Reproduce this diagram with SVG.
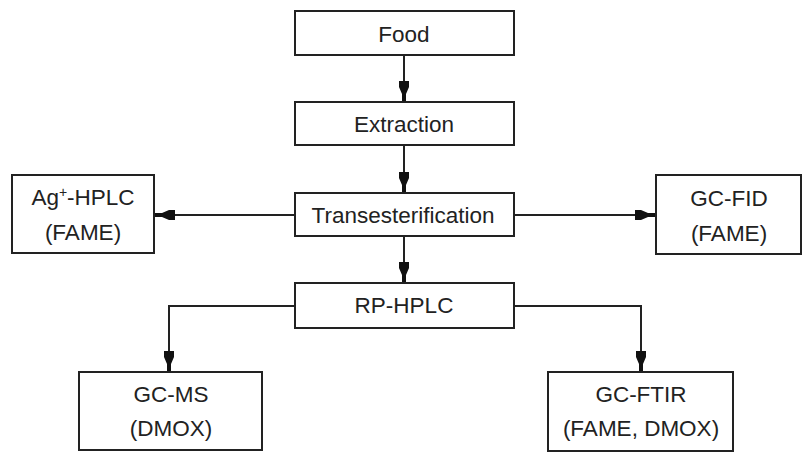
<svg xmlns="http://www.w3.org/2000/svg" width="806" height="454" viewBox="0 0 806 454">
<defs>
<marker id="ah" markerUnits="userSpaceOnUse" viewBox="-20 -6 21 12" refX="0" refY="0" markerWidth="21" markerHeight="12" orient="auto" overflow="visible">
<path d="M-20,-5 L-14,-5 L-7,-2 L0,-2 L0,2 L-7,2 L-14,5 L-20,5 Z" fill="#111"/>
</marker>
<style>
.box{fill:#fff;stroke:#222;stroke-width:2}
.lbl{font-family:"Liberation Sans",Arial,sans-serif;font-size:22.5px;fill:#222;text-anchor:middle}
.con{fill:none;stroke:#222;stroke-width:2}
</style>
</defs>
<rect width="806" height="454" fill="#fff"/>
<g id="connectors">
<path class="con" d="M404,55 V101" marker-end="url(#ah)"/>
<path class="con" d="M404,145 V192" marker-end="url(#ah)"/>
<path class="con" d="M404,236 V282" marker-end="url(#ah)"/>
<path class="con" d="M295,215 H155" marker-end="url(#ah)"/>
<path class="con" d="M514,215 H655" marker-end="url(#ah)"/>
<path class="con" d="M295,306 H169 V371" marker-end="url(#ah)"/>
<path class="con" d="M514,306 H641 V371" marker-end="url(#ah)"/>
</g>
<g id="food"><rect class="box" x="295" y="11" width="219" height="44"/><text class="lbl" x="404" y="42">Food</text></g>
<g id="extraction"><rect class="box" x="295" y="102" width="219" height="43"/><text class="lbl" x="404" y="132">Extraction</text></g>
<g id="transesterification"><rect class="box" x="295" y="193" width="219" height="43"/><text class="lbl" x="403" y="223">Transesterification</text></g>
<g id="rphplc"><rect class="box" x="295" y="283" width="219" height="45"/><text class="lbl" x="404" y="313">RP-HPLC</text></g>
<g id="aghplc"><rect class="box" x="12" y="175" width="142" height="78"/><text class="lbl" x="83" y="205">Ag<tspan font-size="14" dy="-8">+</tspan><tspan dy="8">-HPLC</tspan></text><text class="lbl" x="83" y="240">(FAME)</text></g>
<g id="gcfid"><rect class="box" x="656" y="175" width="145" height="79"/><text class="lbl" x="729" y="206">GC-FID</text><text class="lbl" x="729" y="241">(FAME)</text></g>
<g id="gcms"><rect class="box" x="79" y="372" width="183" height="78"/><text class="lbl" x="171" y="402">GC-MS</text><text class="lbl" x="171" y="436">(DMOX)</text></g>
<g id="gcftir"><rect class="box" x="548" y="372" width="185" height="79"/><text class="lbl" x="641" y="402">GC-FTIR</text><text class="lbl" x="641" y="436">(FAME, DMOX)</text></g>
</svg>
